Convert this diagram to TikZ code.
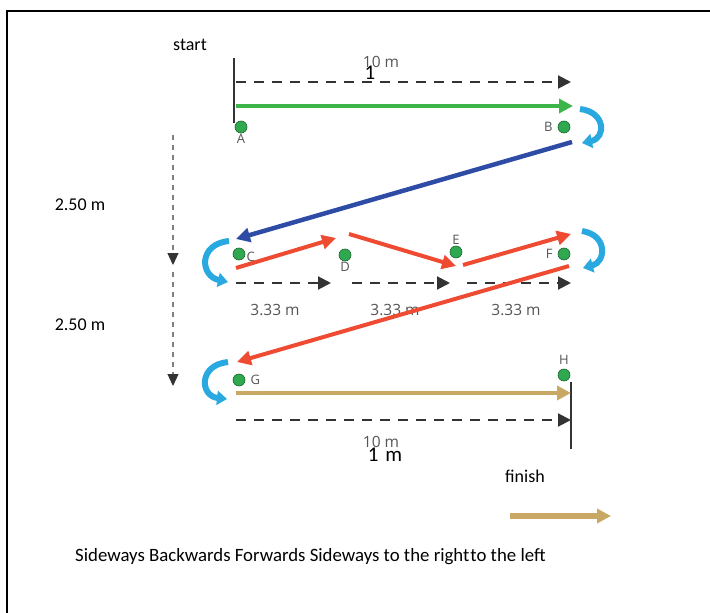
\documentclass[tikz,border=0pt]{standalone}
\usepackage{fontspec}
\setmainfont{Carlito}
\newfontfamily\labfont{Open Sans}
\usetikzlibrary{arrows.meta}
\definecolor{dotgreen}{HTML}{2FA84F}
\definecolor{rungreen}{HTML}{3DB54A}
\definecolor{runblue}{HTML}{2E4CA6}
\definecolor{runred}{HTML}{EE4B32}
\definecolor{runtan}{HTML}{C9A865}
\definecolor{turnblue}{HTML}{2AA9E0}
\definecolor{dashgrey}{HTML}{333333}
\definecolor{labgrey}{HTML}{555555}

\begin{document}
\begin{tikzpicture}[x=1pt,y=-1pt,
  spot/.style={shape=circle,minimum size=12pt,inner sep=0pt,fill=dotgreen,draw=dotgreen!60!black,line width=0.6pt},
  lbl/.style={font=\labfont\fontsize{15.5}{15.5}\selectfont,text=labgrey,inner sep=1pt},
  tag/.style={font=\labfont\fontsize{13}{13}\selectfont,text=labgrey,inner sep=1pt},
  txt/.style={font=\fontsize{18}{18}\selectfont,inner sep=0pt},
  run/.style={line width=4.5pt,-{Triangle[length=14pt,width=14pt]}},
  pace/.style={line width=2pt,dashgrey,dash pattern=on 10pt off 8pt,-{Triangle[length=13pt,width=13pt]}},
  drop/.style={line width=1.2pt,gray,dash pattern=on 5pt off 5pt,-{Triangle[length=12pt,width=11pt,color=dashgrey,fill=dashgrey]}},
  turn/.style={line width=6pt,turnblue,-{Triangle[length=10pt,width=14pt]}}]
\useasboundingbox (0,0) rectangle (710,613);
\draw [line width=2.2pt] (7,613) -- (7,11) -- (710,11);

% markers
\path (241,127) node (A) [spot] {};
\path (564,127) node (B) [spot] {};
\path (239,254) node (C) [spot] {};
\path (345,255) node (D) [spot] {};
\path (456,252) node (E) [spot] {};
\path (564,254) node (F) [spot] {};
\path (239,380) node (G) [spot] {};
\path (564,375) node (H) [spot] {};
\path (A.south) node [tag,below] {A};
\path (B.west) node [tag,left,xshift=-4pt] {B};
\path (C.east) node [tag,right,yshift=-3pt] {C};
\path (D.south) node [tag,below] {D};
\path (E.north) node [tag,above] {E};
\path (F.west) node [tag,left,xshift=-4pt] {F};
\path (G.east) node [tag,right,xshift=4pt] {G};
\path (H.north) node [tag,above,yshift=3pt] {H};

% texts
\path (190,45) node (start) [txt] {start};
\path (525,476) node (finish) [txt] {finish};
\path (80,205) node (gapone) [txt] {2.50 m};
\path (80,325) node (gaptwo) [txt] {2.50 m};
\path (75,557) node (legend) [txt,anchor=west,font=\fontsize{18.8}{18.8}\selectfont] {Sideways Backwards Forwards Sideways to the right\hspace{1pt}to the left};
\path (381,62) node (topten) [lbl] {10 m};
\path (370,73) node (topone) [txt,font=\fontsize{21}{21}\selectfont] {1};
\path (381,442) node (botten) [lbl] {10 m};
\path (385,455) node (botone) [txt,font=\fontsize{21}{21}\selectfont] {1\hspace{7pt}m};
\path (275,310) node (thirdone) [lbl] {3.33 m};
\path (395,310) node (thirdtwo) [lbl] {3.33 m};
\path (516,310) node (thirdthree) [lbl] {3.33 m};

% bars
\coordinate (s1) at (234,58);
\coordinate (s2) at (234,123);
\coordinate (f1) at (571,382);
\coordinate (f2) at (571,449);
\draw [line width=2pt,dashgrey] (s1) -- (s2);
\draw [line width=2pt,dashgrey] (f1) -- (f2);

% measures
\coordinate (m1) at (236,82);
\coordinate (m2) at (571,82);
\coordinate (m3) at (236,283);
\coordinate (m4) at (331,283);
\coordinate (m5) at (352,283);
\coordinate (m6) at (450,283);
\coordinate (m7) at (467,283);
\coordinate (m8) at (571,283);
\coordinate (m9) at (236,420);
\coordinate (m10) at (571,420);
\draw [pace] (m1) -- (m2);
\draw [pace] (m3) -- (m4);
\draw [pace] (m5) -- (m6);
\draw [pace] (m7) -- (m8);
\draw [pace] (m9) -- (m10);
\coordinate (v1) at (173,135);
\coordinate (v2) at (173,265);
\coordinate (v3) at (173,272);
\coordinate (v4) at (173,386);
\draw [drop] (v1) -- (v2);
\draw [drop] (v3) -- (v4);

% runs
\coordinate (r1) at (236,106);
\coordinate (r2) at (573,106);
\coordinate (r3) at (572,142);
\coordinate (r4) at (236,239);
\coordinate (r5) at (236,268);
\coordinate (r6) at (336,238);
\coordinate (r7) at (349,234);
\coordinate (r8) at (456,266);
\coordinate (r9) at (463,265);
\coordinate (r10) at (571,234);
\coordinate (r11) at (569,266);
\coordinate (r12) at (237,362);
\coordinate (r13) at (236,393);
\coordinate (r14) at (571,393);
\draw [run,rungreen] (r1) -- (r2);
\draw [run,runblue] (r3) -- (r4);
\draw [run,runred,line width=4pt] (r5) -- (r6);
\draw [run,runred,line width=4pt] (r7) -- (r8);
\draw [run,runred,line width=4pt] (r9) -- (r10);
\draw [run,runred,line width=4pt] (r11) -- (r12);
\draw [run,runtan] (r13) -- (r14);
\coordinate (k1) at (510,516);
\coordinate (k2) at (611,516);
\draw [run,runtan,line width=6pt] (k1) -- (k2);

% turns
\draw [turn] (580,109) .. controls (606,112) and (606,138) .. (582,143);
\draw [turn] (229,241) .. controls (198,244) and (200,276) .. (228,282);
\draw [turn] (582,231) .. controls (608,235) and (606,262) .. (583,268);
\draw [turn] (228,362) .. controls (198,365) and (200,396) .. (227,399);
\end{tikzpicture}
\end{document}
